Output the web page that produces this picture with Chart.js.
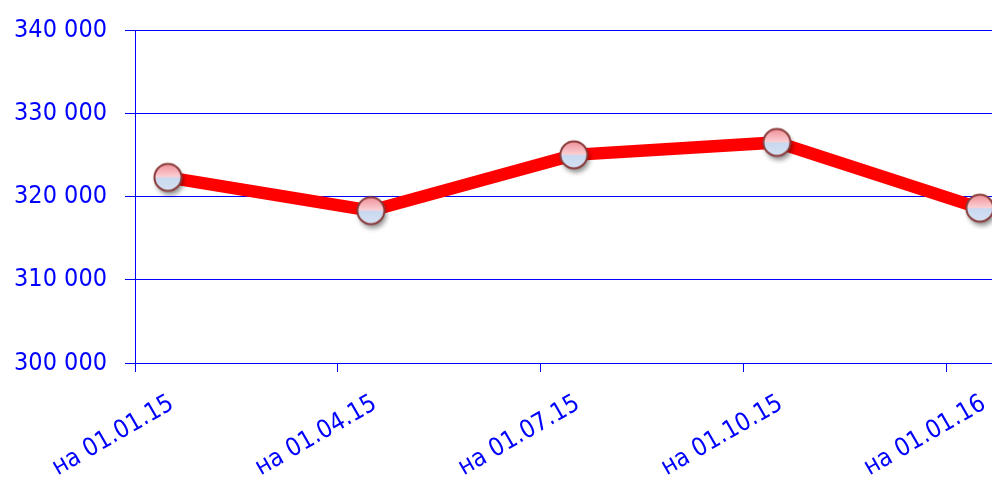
<!DOCTYPE html>
<html>
<head>
<meta charset="utf-8">
<script src="https://cdn.jsdelivr.net/npm/chart.js@4.4.1/dist/chart.umd.min.js"></script>
<style>
  html, body { margin: 0; padding: 0; background: #fff; }
  #wrap { width: 992px; height: 478px; position: relative; }
</style>
</head>
<body>
<div id="wrap"><canvas id="chart"></canvas></div>
<script>
// chart data
const categories = ['на 01.01.15', 'на 01.04.15', 'на 01.07.15', 'на 01.10.15', 'на 01.01.16'];
const values = [322300, 318300, 325000, 326500, 318600];
const yTicks = [300000, 310000, 320000, 330000, 340000];

const BLUE = '#0000ff';
const FONT = { family: "'DejaVu Sans Condensed', 'DejaVu Sans', sans-serif", size: 25 };

// glossy marker drawn once, used as pointStyle
function makeMarker() {
    const c = document.createElement('canvas');
    c.width = 44; c.height = 44;
    const g = c.getContext('2d');
    const cx = 22, cy = 22, r = 13.5;
    g.save();
    g.shadowColor = 'rgba(0,0,0,0.45)';
    g.shadowBlur = 5;
    g.shadowOffsetX = 2;
    g.shadowOffsetY = 4;
    g.beginPath();
    g.arc(cx, cy, r, 0, Math.PI * 2);
    g.fillStyle = '#c8d7ef';
    g.fill();
    g.restore();
    const grad = g.createLinearGradient(0, cy - r, 0, cy + r);
    grad.addColorStop(0, '#ef8f98');
    grad.addColorStop(0.48, '#fbd0d4');
    grad.addColorStop(0.5, '#c9d8f0');
    grad.addColorStop(1, '#d6e2f4');
    g.beginPath();
    g.arc(cx, cy, r, 0, Math.PI * 2);
    g.fillStyle = grad;
    g.fill();
    g.lineWidth = 2;
    g.strokeStyle = '#8a3b3b';
    g.stroke();
    return c;
}

const points = values.map((v, i) => ({ x: i, y: v }));
const X_SHIFT = 0.162;

new Chart(document.getElementById('chart'), {
    type: 'line',
    data: {
        datasets: [{
            data: points,
            borderColor: '#ff0000',
            borderWidth: 12.5,
            pointStyle: makeMarker(),
            pointRadius: 15,
            tension: 0,
            clip: false
        }]
    },
    options: {
        responsive: true,
        maintainAspectRatio: false,
        animation: false,
        layout: { autoPadding: false, padding: { top: 30, right: 0, left: 0, bottom: 0 } },
        plugins: { legend: { display: false }, tooltip: { enabled: false } },
        scales: {
            x: {
                type: 'linear',
                min: -X_SHIFT,
                max: 4.06,
                afterBuildTicks: s => { s.ticks = categories.map((c, i) => ({ value: i - X_SHIFT })); },
                afterFit: s => { s.height = 115; s.paddingLeft = 0; s.paddingRight = 0; },
                grid: { drawOnChartArea: false, color: BLUE, tickLength: 9 },
                border: { color: BLUE, width: 1 },
                ticks: {
                    color: BLUE,
                    font: FONT,
                    autoSkip: false,
                    minRotation: 30,
                    maxRotation: 30,
                    labelOffset: 37,
                    padding: 17,
                    callback: (v, i) => categories[i]
                }
            },
            y: {
                min: 300000,
                max: 340000,
                afterBuildTicks: s => { s.ticks = yTicks.map(v => ({ value: v })); },
                afterFit: s => { s.width = 135; s.paddingTop = 0; s.paddingBottom = 0; },
                grid: { color: BLUE, tickLength: 10 },
                border: { color: BLUE, width: 1 },
                ticks: {
                    color: BLUE,
                    font: FONT,
                    padding: 18,
                    callback: v => String(v).replace(/\B(?=(\d{3})+(?!\d))/g, ' ')
                }
            }
        }
    }
});
</script>
</body>
</html>
